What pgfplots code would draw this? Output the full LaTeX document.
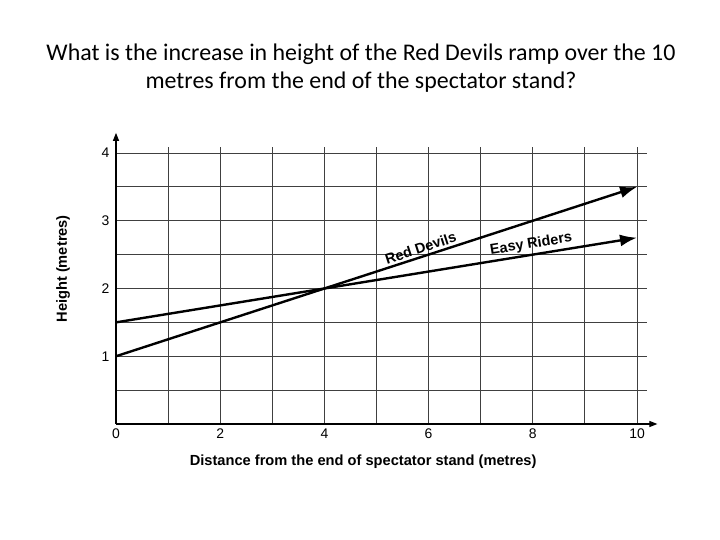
\documentclass[border=0pt]{standalone}
\usepackage{fontspec}
\setmainfont{Liberation Sans}
\newfontfamily\titlefont{Carlito}
\usepackage{pgfplots}
\pgfplotsset{compat=1.18}
\usetikzlibrary{arrows.meta}

\begin{document}
\begin{tikzpicture}[x=1bp,y=1bp]
\path[use as bounding box,fill=white] (0,0) rectangle (720,540);
\node[font=\titlefont\fontsize{24}{28}\selectfont,align=center] at (361,472)
  {What is the increase in height of the Red Devils ramp over the 10\\metres from the end of the spectator stand?};
\begin{axis}[
    at={(116bp,116bp)},
    anchor=south west,
    scale only axis,
    x=52.1bp,
    y=67.75bp,
    xmin=0, xmax=10.2,
    ymin=0, ymax=4.09,
    clip=false,
    axis lines=left,
    axis line style={line width=1.1bp,-{Triangle[length=8bp,width=6bp]}},
    x axis line style={shorten >=-10bp},
    y axis line style={shorten >=-14bp},
    xtick={0,2,...,10},
    minor xtick={1,3,...,9},
    ytick={1,2,3,4},
    minor ytick={0.5,1.5,2.5,3.5},
    grid=both,
    major grid style={draw=black!75,line width=0.9bp},
    minor grid style={draw=black!75,line width=0.9bp},
    major tick length=0pt,
    minor tick length=0pt,
    /pgf/number format/assume math mode=true,
    tick label style={font=\fontsize{14}{16}\selectfont},
    xticklabel style={yshift=-1bp},
    yticklabel style={xshift=-3bp},
    xlabel={\bfseries Distance from the end of spectator stand (metres)},
    ylabel={\bfseries Height (metres)},
    label style={font=\fontsize{14.7}{17}\selectfont},
    xlabel style={at={(axis description cs:0.465,-0.137)},anchor=center},
    ylabel style={at={(axis description cs:-0.0997,0.56)},anchor=center,rotate=0},
]
\addplot[black,line width=2.4bp,-{Latex[length=17bp,width=12bp]}]
  coordinates {(0,1) (4,2) (10,3.5)}
  node[pos=0.59,sloped,above,yshift=-1bp,font=\fontsize{14.5}{17}\selectfont\bfseries] {Red Devils};
\addplot[black,line width=2.4bp,-{Latex[length=17bp,width=12bp]}]
  coordinates {(0,1.5) (4,2) (10,2.75)}
  node[pos=0.80,sloped,above,yshift=-1bp,font=\fontsize{14.5}{17}\selectfont\bfseries] {Easy Riders};
\end{axis}
\end{tikzpicture}
\end{document}
